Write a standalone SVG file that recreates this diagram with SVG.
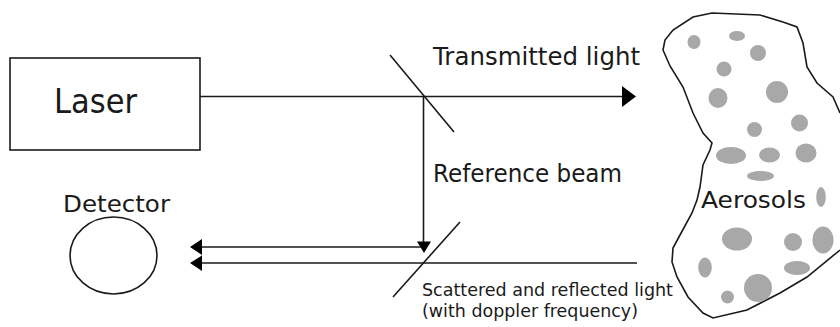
<svg xmlns="http://www.w3.org/2000/svg" width="840" height="327" viewBox="0 0 840 327">
  <style>
    .ln { stroke: #1a1a1a; stroke-width: 1.6; fill: none; }
    .head { fill: #000; stroke: none; }
    .lbl { font-family: "DejaVu Sans", Verdana, sans-serif; fill: #1a1a1a; }
    .drop { fill: #a8a8a8; }
  </style>

  <rect width="840" height="327" fill="#ffffff"/>

  <!-- Laser source -->
  <g id="laser">
    <rect x="10" y="58" width="190" height="92" class="ln"/>
    <text x="54" y="113" class="lbl" font-size="34" textLength="83" lengthAdjust="spacingAndGlyphs">Laser</text>
  </g>

  <!-- Detector -->
  <g id="detector">
    <text x="63" y="212" class="lbl" font-size="23" textLength="107" lengthAdjust="spacingAndGlyphs">Detector</text>
    <ellipse cx="113.5" cy="255.5" rx="43.5" ry="38.5" class="ln"/>
  </g>

  <!-- Beam splitters -->
  <g id="splitter-upper">
    <line x1="390" y1="55" x2="454" y2="132" class="ln"/>
  </g>
  <g id="splitter-lower">
    <line x1="393" y1="297" x2="460" y2="222" class="ln"/>
  </g>

  <!-- Aerosol cloud -->
  <g id="aerosols">
    <path class="ln" stroke-width="2.2" d="M840,113 L833,97 L817,83 L807,67 L803,43 L797,27 L783,22 L760,15 L712,13 L693,17 L673,30 L665,40 L663,50 L670,66 L683,87 L693,113 L703,133 L712,143 L710,150 L703,165 L700,187 L697,200 L692,213 L680,235 L673,248 L672,262 L677,277 L688,297 L703,313 L713,318 L747,310 L780,293 L807,277 L840,250"/>
    <ellipse class="drop" cx="694" cy="42" rx="6.5" ry="7"/>
    <ellipse class="drop" cx="737" cy="36" rx="8" ry="5"/>
    <ellipse class="drop" cx="758" cy="53" rx="8" ry="8"/>
    <ellipse class="drop" cx="724" cy="69" rx="7.5" ry="7.5"/>
    <ellipse class="drop" cx="718" cy="98" rx="9.5" ry="10"/>
    <ellipse class="drop" cx="777" cy="92" rx="11" ry="11"/>
    <ellipse class="drop" cx="754.5" cy="129.5" rx="7.5" ry="7.5"/>
    <ellipse class="drop" cx="799.5" cy="123" rx="8.5" ry="8.5"/>
    <ellipse class="drop" cx="731" cy="155.5" rx="15" ry="8.5"/>
    <ellipse class="drop" cx="769.5" cy="155" rx="10.5" ry="7.5"/>
    <ellipse class="drop" cx="806" cy="153" rx="10.5" ry="9.5"/>
    <ellipse class="drop" cx="760.5" cy="176" rx="13.5" ry="5"/>
    <ellipse class="drop" cx="821" cy="197" rx="4.8" ry="10"/>
    <ellipse class="drop" cx="737" cy="239" rx="15" ry="11.5"/>
    <ellipse class="drop" cx="793" cy="242" rx="9" ry="9"/>
    <ellipse class="drop" cx="823" cy="240" rx="10.5" ry="13.5"/>
    <ellipse class="drop" cx="705" cy="267.5" rx="6.8" ry="10"/>
    <ellipse class="drop" cx="797" cy="268" rx="13" ry="7"/>
    <ellipse class="drop" cx="758" cy="288" rx="14" ry="14"/>
    <ellipse class="drop" cx="727.5" cy="297" rx="6.5" ry="6.5"/>
    <text x="701" y="208" class="lbl" font-size="23" textLength="105" lengthAdjust="spacingAndGlyphs">Aerosols</text>
  </g>

  <!-- Beam paths -->
  <g id="connectors">
    <!-- transmitted beam -->
    <line x1="200" y1="96.5" x2="624" y2="96.5" class="ln"/>
    <polygon class="head" points="622,86 636,96.5 622,107"/>
    <!-- reference beam down to lower splitter -->
    <line x1="423.5" y1="96.5" x2="423.5" y2="243" class="ln"/>
    <polygon class="head" points="417,241.5 431,241.5 424,253"/>
    <!-- reference beam to detector -->
    <line x1="421" y1="247" x2="200" y2="247" class="ln"/>
    <polygon class="head" points="202,239 190,247 202,255"/>
    <!-- scattered return to detector -->
    <line x1="637" y1="263" x2="200" y2="263" class="ln"/>
    <polygon class="head" points="202,255.5 190,263 202,271"/>
  </g>

  <!-- Beam labels -->
  <g id="labels">
    <text x="433" y="65" class="lbl" font-size="24" textLength="207" lengthAdjust="spacingAndGlyphs">Transmitted light</text>
    <text x="433" y="182" class="lbl" font-size="24" textLength="189" lengthAdjust="spacingAndGlyphs">Reference beam</text>
    <text x="422" y="296" class="lbl" font-size="18.5" textLength="251" lengthAdjust="spacingAndGlyphs">Scattered and reflected light</text>
    <text x="422" y="317" class="lbl" font-size="18.5" textLength="216" lengthAdjust="spacingAndGlyphs">(with doppler frequency)</text>
  </g>
</svg>
